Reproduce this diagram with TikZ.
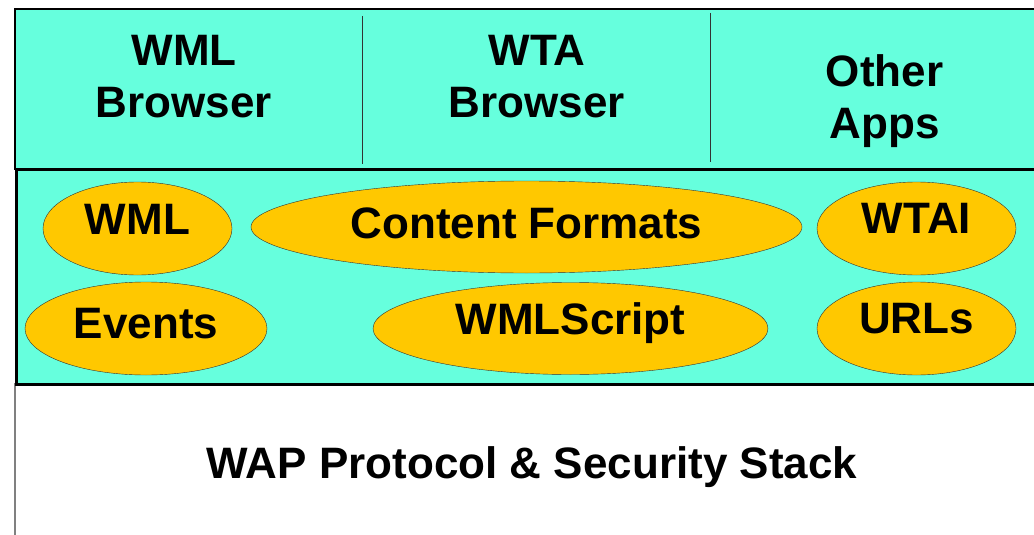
\documentclass[tikz,border=0pt]{standalone}
\usepackage{fontspec}
\setmainfont{Liberation Sans}
\usetikzlibrary{shapes.geometric}
\definecolor{layercyan}{RGB}{102,255,221}
\definecolor{ovalorange}{RGB}{255,200,0}

\begin{document}
\begin{tikzpicture}[x=1pt, y=-1pt,
    boxstyle/.style={draw=black, fill=layercyan, inner sep=0pt, anchor=north west},
    ovalstyle/.style={ellipse, draw=black!80, fill=ovalorange, inner sep=0pt, text height=32pt},
    labelstyle/.style={font=\fontsize{44}{52}\selectfont\bfseries, align=center}]
\useasboundingbox (0,0) rectangle (1034,535);

% layers
\draw[black!50, line width=1.5pt] (15,383) -- (15,545);
\node[boxstyle, line width=1.6pt, minimum width=1030pt, minimum height=160pt] (apps) at (14,8) {};
\node[boxstyle, line width=2.8pt, minimum width=1030pt, minimum height=215pt] (env) at (15,168) {};

% separators in the top layer
\coordinate (sepa) at (362,16);
\coordinate (sepb) at (710,13);
\draw[black!80, line width=0.9pt] (sepa) -- ++(0,148) (sepb) -- ++(0,149);

\node[labelstyle] (wmlbrowser) at (184,77) {WML\\Browser};
\node[labelstyle] (wtabrowser) at (537,77) {WTA\\Browser};
\node[labelstyle] (otherapps) at (884.5,101.5) {Other\\Apps};

% ovals of the WAE layer (last value lifts the text)
\foreach \name/\cx/\cy/\w/\h/\txt/\d in {
    wml/137.5/228.5/189/93/WML/20.5,
    formats/526.5/227/551/92/Content Formats/9.5,
    wtai/916.5/228.5/199/93/WTAI/22.5,
    events/146/328.5/242/93/Events/12.5,
    script/570.5/328.5/395/92/WMLScript/20.5,
    urls/916.5/328.5/199/93/URLs/22.5}
  \node[ovalstyle, labelstyle, text depth=\d pt, minimum width=\w pt, minimum height=\h pt] (\name) at (\cx,\cy) {\txt};

\node[labelstyle] (stack) at (532,467.5) {WAP Protocol \& Security Stack};
\end{tikzpicture}
\end{document}
